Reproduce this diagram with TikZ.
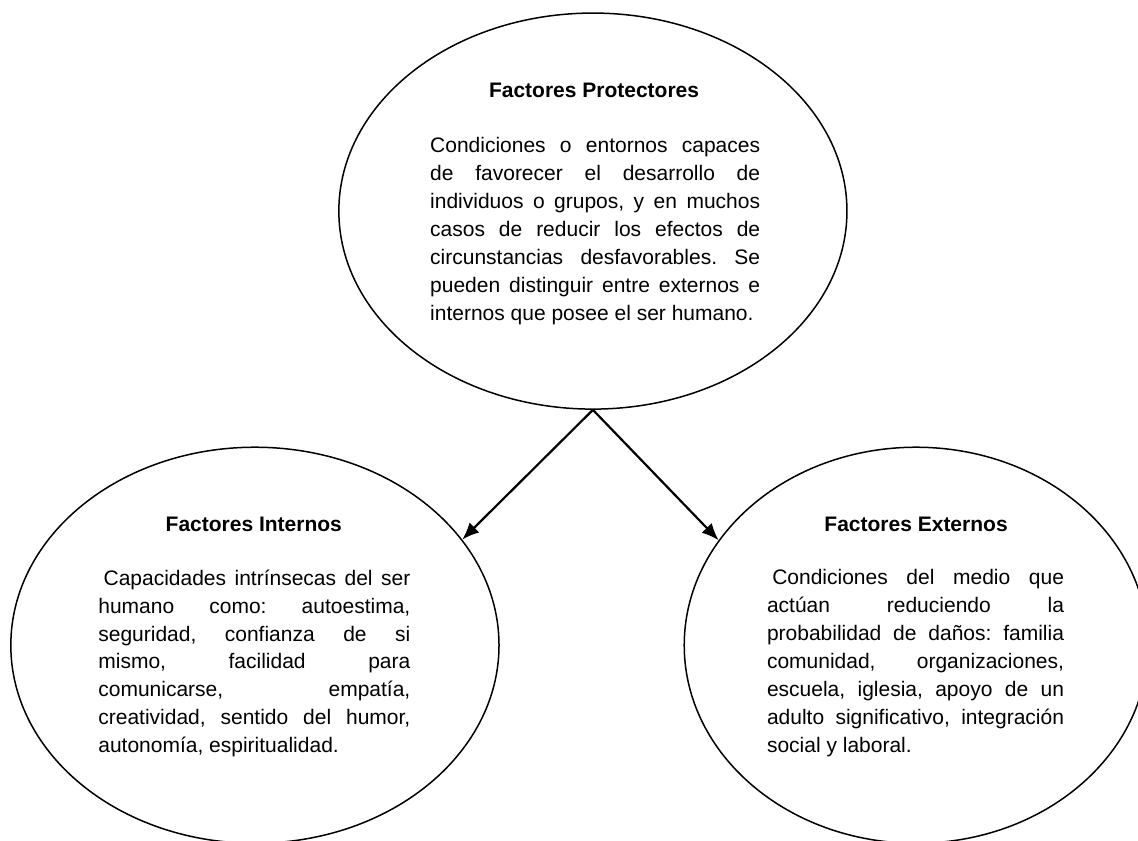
\documentclass[tikz,border=0pt]{standalone}
\usepackage{fontspec}
\setmainfont{Liberation Sans}
\usetikzlibrary{shapes.geometric,arrows.meta,positioning}
\tikzset{
  factor/.style={ellipse, draw=black, line width=0.75pt, inner sep=0pt},
  headtext/.style={font=\fontsize{10.5}{14}\selectfont\bfseries},
  bodytext/.style={font=\fontsize{10.5}{14}\selectfont\frenchspacing, align=justify, inner sep=0pt},
  link/.style={-{Latex[length=8.5pt,width=7pt]}, line width=1.1pt}
}

\begin{document}
\begin{tikzpicture}
    \useasboundingbox (0,0) rectangle (20.0,14.78);

    % Elipses
    \node[factor, minimum width=8.93cm, minimum height=6.96cm] (protect) at (10.42,11.07) {};
    \node[factor, minimum width=8.58cm, minimum height=6.96cm] (intern) at (4.48,3.44) {};
    \node[factor, minimum width=8.15cm, minimum height=6.96cm] (extern) at (16.10,3.44) {};

    % Flechas
    \coordinate (apex) at (protect.south);
    \draw[link] (apex) -- (intern.27);
    \draw[link] (apex) -- (extern.152);

    % Textos
    \node[headtext] (protecthead) at (10.44,13.20) {Factores Protectores};
    \node[bodytext, text width=165pt] (protectbody) at (10.46,10.72)
      {Condiciones o entornos capaces \linebreak de favorecer el desarrollo de \linebreak
       individuos o grupos, y en muchos \linebreak casos de reducir los efectos de \linebreak
       circunstancias desfavorables. Se \linebreak pueden distinguir entre externos e \linebreak
       internos que posee el ser humano.};

    \node[headtext] (internhead) at (4.46,5.57) {Factores Internos};
    \node[bodytext, text width=156pt] (internbody) at (4.47,3.12)
      {\hspace*{0.25em}Capacidades intrínsecas del ser \linebreak humano como: autoestima, \linebreak
       seguridad, confianza de si \linebreak mismo, facilidad para \linebreak
       comunicarse, empatía, \linebreak creatividad, sentido del humor, \linebreak
       autonomía, espiritualidad.};

    \node[headtext] (externhead) at (16.10,5.57) {Factores Externos};
    \node[bodytext, text width=148.5pt] (externbody) at (16.09,3.12)
      {\hspace*{0.25em}Condiciones del medio que \linebreak actúan reduciendo la \linebreak
       probabilidad de daños: familia \linebreak comunidad, organizaciones, \linebreak
       escuela, iglesia, apoyo de un \linebreak adulto significativo, integración \linebreak
       social y laboral.};
\end{tikzpicture}
\end{document}
